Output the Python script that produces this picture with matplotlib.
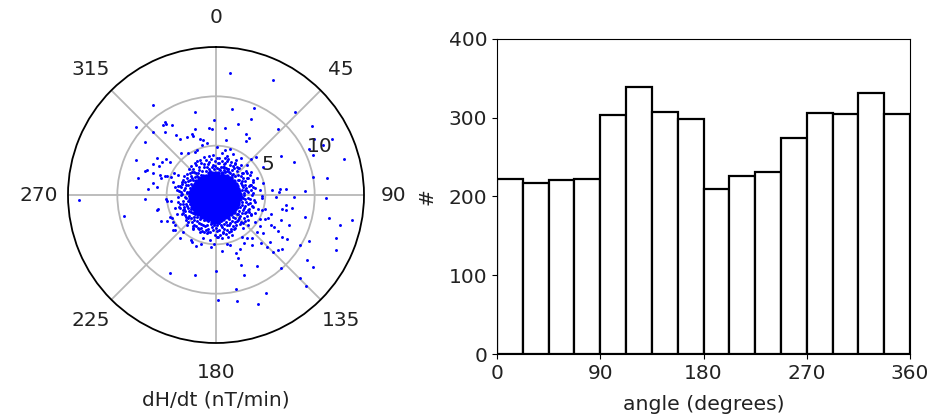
import numpy as np
import matplotlib
matplotlib.use('Agg')
import matplotlib.pyplot as plt

# dH/dt components (nT/min), outlying dots
outer_east = [-6.35, -2.16, -0.2, -5.2, -5.07, -5.34, -4.49, -8.11, -6.35, -5.2, -0.71, -0.44, -2.16, -4.05, -2.9,
              -2.47, -2.36, -3.61, -7.2, -1.62, -1.28, -0.88, -1.45, 0.07, -8.11, -5.95, -5.07, -5.5, -6.35, -5.78,
              -4.66, -3.51, -2.8, -2.13, -1.89, -7.2, -6.96, -6.42, -7.9, -5.68, -5.57, -5.17, -4.93, -6.35, -6.01,
              -6.93, -4.26, -3.82, -4.32, -4.16, -3.65, -4.56, -3.99, -7.2, -13.9,
              1.39, 5.74, 1.59, 3.82, 8.04, 3.55, 2.23, 0.95, 6.25, 9.76, 3.01, 3.38, 3.01, 1.01, 11.79, 9.97, 10.88,
              9.46, 9.87, 13.0, 6.62, 7.9, 4.05, 3.51, 4.8, 9.8, 11.25, 5.71, 6.49, 6.42, 7.09, 9.05, 6.05, 7.9, 11.1,
              0.91, 1.42, 0.64, 1.08, 1.18, 1.76, 2.53, 0.91, 1.93, 2.09, 3.11, 1.25, 2.6, 3.11, 3.55, 0.84, 2.77,
              3.28, 3.78, 4.12, 4.8, 3.95, 3.45, 4.46, 4.63, 3.61, 2.94,
              -9.29, -6.01, -5.84, -5.07, -5.0, -4.56, -3.82, -5.57, -4.93, -4.66, -4.49, -4.32, -4.16, -4.32, -4.16,
              -3.38, -3.65, -2.57, -2.47, -2.06, -1.49, -0.54, -0.17, -4.66, -2.13, -0.03, 0.24, -3.99, -3.31, -3.14,
              -2.97, -2.8, -3.31, -4.16, -3.65, -2.3, -1.62, -0.95, -1.28, 0.07, -0.61,
              11.42, 13.75, 12.57, 12.13, 12.16, 9.02, 9.39, 8.55, 9.26, 9.83, 8.51, 9.16, 6.62, 4.12, 2.87, 2.03,
              5.07, 2.13, 4.29, 2.5, 2.26, 1.99, 2.43, 0.64, 1.08, 1.42, 2.84, 3.61, 4.53, 5.47, 5.2, 5.81, 6.32,
              6.66, 6.72, 7.2, 4.8, 6.32, 7.4, 5.57, 5.91, 6.59, 7.67, 7.06, 6.66, 7.06, 5.57, 5.3, 4.97, 4.46, 4.63,
              4.97, 3.95, 3.55, 4.22, 3.78, 3.95, 4.63, 3.28, 3.95, 4.46, 3.28, 4.12, 3.11, 2.6, 3.61, 1.59, 1.25,
              0.57, 0.24, 1.93, 2.77, 2.26, 2.94, 3.28]
outer_north = [9.12, 8.45, 7.6, 7.43, 7.2, 7.09, 7.13, 6.86, 6.39, 6.42, 6.82, 6.69, 6.69, 6.05, 5.91,
               6.18, 5.98, 5.64, 5.41, 5.64, 5.57, 5.24, 5.07, 4.9, 3.55, 3.78, 3.68, 3.31, 3.11, 2.97,
               3.31, 4.26, 4.26, 4.39, 4.56, 2.43, 2.53, 2.2, 1.72, 1.99, 1.69, 1.93, 1.93, 1.18, 0.84,
               0.61, 2.26, 2.03, 1.35, 0.84, 0.91, 1.79, 0.51, -0.44, -0.47,
               12.4, 11.69, 8.68, 8.78, 8.45, 7.67, 7.16, 6.76, 6.66, 6.96, 6.22, 5.81, 5.47, 5.57, 5.71, 5.71, 5.07,
               4.63, 4.02, 3.61, 3.92, 3.34, 3.89, 3.65, 2.84, 1.86, 1.76, 0.47, 0.64, 0.34, 0.61, 0.37, -0.17, -0.17, -0.34,
               4.56, 4.63, 4.22, 3.95, 3.61, 4.12, 3.72, 3.21, 3.21, 2.87, 3.04, 2.6, 2.26, 2.26, 2.3, 2.87, 1.69,
               1.69, 1.52, 1.69, 1.25, 0.68, 1.01, 0.51, -0.1, 0.0, 0.51,
               -2.13, -1.52, -1.45, -0.41, -0.61, -0.61, -0.68, -2.6, -2.6, -2.2, -2.36, -2.7, -3.04, -3.55, -3.55,
               -3.72, -4.39, -4.56, -4.73, -5.14, -5.0, -5.24, -5.0, -7.87, -8.11, -7.74, -10.64, -1.96, -1.52, -2.03,
               -3.04, -2.36, -1.86, -1.35, -1.35, -3.38, -3.72, -3.89, -4.39, -4.22, -4.56,
               -2.3, -2.57, -3.04, -4.32, -5.57, -2.2, -4.63, -5.07, -6.55, -7.3, -8.45, -9.26, -7.43, -7.2, -8.14, -9.56,
               -9.97, -10.71, -11.08, -7.06, -6.42, -5.88, -5.47, -5.68, -5.0, -5.07, -4.9, -5.07, -4.9, -4.8, -5.24, -5.74, -5.57,
               -5.47, -4.22, -4.43, -3.89, -3.61, -3.04, -3.04, -3.21, -2.53, -1.28, -1.01, -1.45, -1.52, -1.96, -2.3, -2.47, -2.43, -1.52,
               -1.42, -1.86, -2.03, -1.42, -1.18, -0.68, -0.27, -2.53, -2.7, -3.14, -3.04, -3.72, -4.39, -4.22, -4.32, -4.05, -4.22,
               -4.39, -4.22, -3.38, -3.38, -2.53, -1.86, -1.52]

# edge of the dense cloud
fringe_east = [-0.3, 0.2, 0.5, -0.8, -1.2, -0.5, 0.1, -1.0, -1.5, 0.6, 1.0, 1.3, 1.6, -1.7, -2.0, -2.3, -2.0, -2.5, -2.8,
               -3.0, -3.2, -2.9, -3.1, -3.4, -3.5, -3.3, -2.9, -2.7, -3.0, -3.3, -2.8, -3.1, -2.5, -2.7, -2.2, -2.4,
               -1.9, -2.0, -1.5, -1.7, -1.1, -0.8, -1.2, -0.4, -0.6, 0.0, 0.3, 0.5, 0.8, 0.7, 1.1, 1.4, 1.5, 1.9, 2.0,
               2.3, 2.5, 2.2, 2.7, 2.9, 3.0, 2.7, 3.2, 3.4, 2.8, 3.1, 2.7, 3.3, 2.5, 2.9, 2.2, 2.5, 1.9, 2.1, 1.6, 1.1,
               0.8, 0.3, -0.2, -0.7,
               0.1, 0.45, 0.75, 0.95, 1.25, 1.45, 1.75, 1.85, 2.25, 2.35, 2.65, 2.3, 2.7, 0.35, 0.85, 1.4, 1.9, 1.15, 2.6,
               2.95, 3.1, 2.65, 3.0, 3.25, 2.85, 3.5,
               2.65, 2.95, 2.6, 3.2, 2.6, 2.85, 2.45, 2.3, 2.6, 3.05, 2.15, 2.4, 2.85, 1.95, 2.1, 1.7, 1.65, 1.3, 1.35,
               1.0, 0.85, 0.55, 0.3, 0.65, 0.1, 1.7, 1.15, 0.1, 3.4, 3.3,
               -0.2, -0.55, -0.8, -0.95, -1.25, -1.35, -1.6, -1.75, -1.95, -2.2, -2.1, -2.35, -2.55, -2.4, -2.7, -2.95,
               -2.6, -2.85, -2.65, -3.0, -3.2, -0.35, -1.5, -2.5, -3.3, -2.2, -1.0,
               -2.75, -2.95, -2.7, -3.15, -2.6, -2.85, -2.5, -2.65, -3.1, -2.3, -2.45, -2.15, -2.65, -1.95, -1.8, -2.2,
               -1.5, -1.4, -1.75, -1.0, -0.9, -1.25, -0.6, -0.45, -0.15, -0.7, -0.15, -3.5, -3.4, -2.5,
               3.7, 3.9, 3.6, 3.3, 3.55, 3.8, 2.95, 3.15, 2.45, 2.75, 1.55, 1.85, 1.0, 1.3, 0.4,
               0.75, -0.15, -0.25, -0.85, -1.45, -1.85, -2.35, -2.8, -3.05, -3.45, -3.7, -3.85, -3.6, -3.75, -3.45,
               -3.85, -2.95, -3.25, -2.45, -2.75, -1.65, -2.15, -1.2, -0.75, -0.3, 0.35, 0.9, 1.55, 2.05, 2.5,
               3.0, 3.4, 3.75, 3.55, -3.2, -3.05, -2.3, -3.55, 2.2, 1.7, -1.95]
fringe_north = [3.0, 3.2, 2.8, 3.1, 2.8, 3.6, 3.7, 3.5, 3.2, 3.4, 2.7, 2.3, 2.5, 2.5, 2.2, 2.6, 3.0, 1.9, 1.4,
                1.0, 0.5, 0.2, -0.2, 0.1, 0.8, 1.5, 2.1, -0.6, -0.9, -0.6, -1.3, -1.6, -1.7, -2.1, -2.2, -2.7,
                -2.6, -3.1, -2.9, -3.4, -3.1, -3.4, -3.7, -3.2, -3.8, -3.3, -3.5, -3.0, -3.4, -3.9, -3.0, -2.8, -3.4, -2.7, -3.0,
                -2.3, -2.7, -1.9, -1.5, -1.1, -0.7, -0.3, -0.3, -0.8, 0.2, 0.4, 0.8, 0.9, 1.2, 1.4, 1.5, 1.9, 1.9, 2.4, 2.0, 2.4,
                2.5, 2.6, 2.6, 2.6,
                2.75, 2.5, 2.85, 2.35, 2.65, 2.2, 2.15, 2.7, 2.0, 1.55, 1.45, 2.7, 2.25, 3.25, 3.15, 3.0, 3.1, 3.45, 1.05,
                1.05, 1.7, 0.55, 0.75, 0.3, 0.05, 0.55,
                -0.25, -0.45, -0.7, -0.95, -1.0, -1.35, -1.25, -1.6, -1.8, -1.75, -1.95, -2.15, -2.3, -2.3, -2.6, -2.2, -2.6, -2.45, -3.05,
                -2.7, -2.95, -2.65, -2.85, -3.2, -3.05, -3.1, -3.55, -3.6, -0.4, -1.4,
                -2.85, -2.9, -2.65, -3.0, -2.55, -3.0, -2.45, -2.8, -2.25, -2.55, -1.9, -1.8, -1.4, -1.35, -1.65, -1.15,
                -0.9, -0.65, -0.4, -0.35, -1.2, -3.5, -3.3, -2.3, -0.95, -3.0, -3.55,
                -0.1, 0.35, 0.3, 0.75, 0.75, 1.0, 1.15, 1.55, 1.3, 1.5, 1.75, 1.85, 2.25, 1.95, 2.25, 2.35,
                2.05, 2.45, 2.8, 2.45, 2.8, 3.15, 2.45, 2.85, 2.95, 3.35, 3.4, 0.3, 1.1, 2.95,
                0.2, -0.5, -1.1, -1.75, -1.9, 0.85, -2.6, -2.15, -2.95, -2.85, -3.65, -3.4, -3.95, -3.8, -4.05,
                -3.7, -4.1, -3.0, -3.75, -3.65, -3.3, -3.15, -2.75, -2.2, -1.9, -1.25, -0.2, -0.9, 0.4, 1.35,
                0.95, 1.75, 1.9, 2.35, 2.6, 3.55, 3.2, 3.85, 3.95, 4.1, 3.75, 3.8, 3.35, 3.5, 3.0,
                2.4, 2.05, 1.35, 1.0, -1.4, -2.5, -3.45, 0.05, 2.75, 2.95, 3.45]

# solid middle of the cloud, one row of dots per north value
core_north = [2.2, 1.94, 1.68, 1.42, 1.16, 0.9, 0.64, 0.38, 0.12, -0.14, -0.4, -0.66, -0.92, -1.18, -1.44, -1.7, -1.96,
              -2.22, -2.48, -2.74]
core_east = [
    [-0.75, -0.4, -0.1, 0.25, 0.6],
    [-1.3, -1.0, -0.7, -0.4, -0.1, 0.2, 0.5, 0.8, 1.1],
    [-1.7, -1.4, -1.1, -0.8, -0.5, -0.2, 0.1, 0.4, 0.7, 1.0, 1.3, 1.55],
    [-2.0, -1.7, -1.4, -1.1, -0.8, -0.5, -0.2, 0.1, 0.4, 0.7, 1.0, 1.3, 1.6, 1.85],
    [-2.15, -1.85, -1.55, -1.25, -0.95, -0.65, -0.35, -0.05, 0.25, 0.55, 0.85, 1.15, 1.45, 1.75, 2.0],
    [-2.3, -2.0, -1.7, -1.4, -1.1, -0.8, -0.5, -0.2, 0.1, 0.4, 0.7, 1.0, 1.3, 1.6, 1.9, 2.1],
    [-2.45, -2.15, -1.85, -1.55, -1.25, -0.95, -0.65, -0.35, -0.05, 0.25, 0.55, 0.85, 1.15, 1.45, 1.75, 2.05, 2.25],
    [-2.5, -2.2, -1.9, -1.6, -1.3, -1.0, -0.7, -0.4, -0.1, 0.2, 0.5, 0.8, 1.1, 1.4, 1.7, 2.0, 2.3],
    [-2.6, -2.3, -2.0, -1.7, -1.4, -1.1, -0.8, -0.5, -0.2, 0.1, 0.4, 0.7, 1.0, 1.3, 1.6, 1.9, 2.2, 2.4],
    [-2.55, -2.25, -1.95, -1.65, -1.35, -1.05, -0.75, -0.45, -0.15, 0.15, 0.45, 0.75, 1.05, 1.35, 1.65, 1.95, 2.25, 2.45],
    [-2.6, -2.3, -2.0, -1.7, -1.4, -1.1, -0.8, -0.5, -0.2, 0.1, 0.4, 0.7, 1.0, 1.3, 1.6, 1.9, 2.2, 2.4],
    [-2.55, -2.25, -1.95, -1.65, -1.35, -1.05, -0.75, -0.45, -0.15, 0.15, 0.45, 0.75, 1.05, 1.35, 1.65, 1.95, 2.25],
    [-2.45, -2.15, -1.85, -1.55, -1.25, -0.95, -0.65, -0.35, -0.05, 0.25, 0.55, 0.85, 1.15, 1.45, 1.75, 2.05, 2.25],
    [-2.4, -2.1, -1.8, -1.5, -1.2, -0.9, -0.6, -0.3, 0.0, 0.3, 0.6, 0.9, 1.2, 1.5, 1.8, 2.1],
    [-2.25, -1.95, -1.65, -1.35, -1.05, -0.75, -0.45, -0.15, 0.15, 0.45, 0.75, 1.05, 1.35, 1.65, 1.95],
    [-2.1, -1.8, -1.5, -1.2, -0.9, -0.6, -0.3, 0.0, 0.3, 0.6, 0.9, 1.2, 1.5, 1.8],
    [-1.8, -1.5, -1.2, -0.9, -0.6, -0.3, 0.0, 0.3, 0.6, 0.9, 1.2, 1.5],
    [-1.5, -1.2, -0.9, -0.6, -0.3, 0.0, 0.3, 0.6, 0.9, 1.2],
    [-1.05, -0.75, -0.45, -0.15, 0.15, 0.45, 0.75],
    [-0.4, -0.1, 0.2],
]

# histogram of the angles
bin_edges = [0, 22.5, 45, 67.5, 90, 112.5, 135, 157.5, 180, 202.5, 225, 247.5, 270, 292.5, 315, 337.5, 360]
counts = [222, 217, 221, 222, 304, 339, 307, 299, 210, 226, 231, 274, 306, 305, 332, 305]

theta_ticks = [0, 45, 90, 135, 180, 225, 270, 315]
r_ticks = [5, 10]
x_ticks = [0, 90, 180, 270, 360]
y_ticks = [0, 100, 200, 300, 400]

W, H = 947, 419
fig = plt.figure(figsize=(W / 100, H / 100), dpi=100)

# polar panel
ax1 = fig.add_axes([68 / W, (H - 343) / H, 296 / W, 296 / H], projection='polar')
ax1.set_theta_zero_location('N')
ax1.set_theta_direction(-1)

east = np.array(outer_east + fringe_east)
north = np.array(outer_north + fringe_north)
ax1.scatter(np.arctan2(east, north), np.hypot(east, north), s=4.5, c='blue', linewidths=0, zorder=3)

c_e, c_n = [], []
for n, row in zip(core_north, core_east):
    for e in row:
        c_e.append(e)
        c_n.append(n)
c_e = np.array(c_e)
c_n = np.array(c_n)
ax1.scatter(np.arctan2(c_e, c_n), np.hypot(c_e, c_n), s=10, c='blue', linewidths=0, zorder=3)

ax1.set_rlim(0, 15)
ax1.set_thetagrids(theta_ticks, [str(t) for t in theta_ticks])
ax1.set_rticks(r_ticks)
ax1.set_yticklabels([])
ax1.text(np.radians(60), 6.1, '5', ha='center', va='center', fontsize=14.5, color='#222222', zorder=4)
ax1.text(np.radians(65), 11.6, '10', ha='center', va='center', fontsize=14.5, color='#222222', zorder=4)
ax1.tick_params(axis='x', labelsize=14.5, pad=10.5, labelcolor='#222222')
ax1.grid(True, color='#b8b8b8', lw=1.3)
ax1.spines['polar'].set_linewidth(1.3)
ax1.set_xlabel('dH/dt (nT/min)', fontsize=14.5, labelpad=6.5, color='#222222')

# histogram panel
ax2 = fig.add_axes([497 / W, (H - 354) / H, 413 / W, 315 / H])
ax2.bar(bin_edges[:-1], counts, width=np.diff(bin_edges), align='edge', facecolor='white', edgecolor='black', linewidth=1.6)
ax2.set_xlim(0, 360)
ax2.set_ylim(0, 400)
ax2.set_xticks(x_ticks)
ax2.set_yticks(y_ticks)
ax2.tick_params(labelsize=14.5, labelcolor='#222222')
ax2.set_xlabel('angle (degrees)', fontsize=14.7, labelpad=9, color='#222222')
ax2.set_ylabel('#', fontsize=14.5, labelpad=8.5, color='#222222')

fig.savefig('out.png', dpi=100)
